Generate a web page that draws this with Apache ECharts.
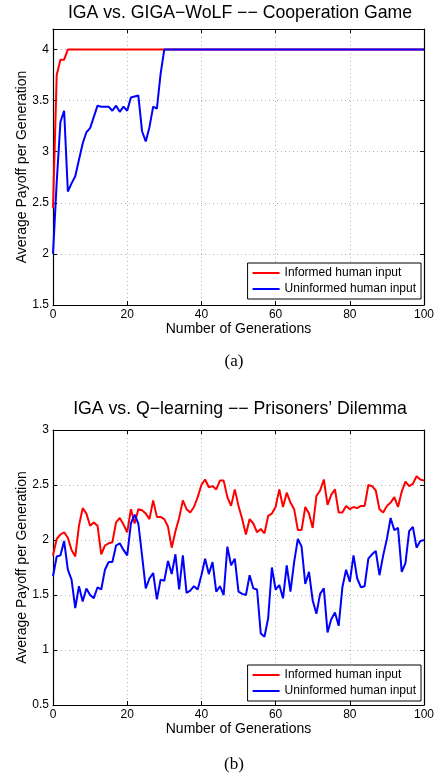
<!DOCTYPE html>
<html><head><meta charset="utf-8">
<script src="https://cdn.jsdelivr.net/npm/echarts@6/dist/echarts.min.js"></script>
<style>html,body{margin:0;padding:0;background:#fff}#c{width:443px;height:781px}</style>
</head><body><div id="c"></div>
<script>
const generations = [0,1,2,3,4,5,6,7,8,9,10,11,12,13,14,15,16,17,18,19,20,21,22,23,24,25,26,27,28,29,30,31,32,33,34,35,36,37,38,39,40,41,42,43,44,45,46,47,48,49,50,51,52,53,54,55,56,57,58,59,60,61,62,63,64,65,66,67,68,69,70,71,72,73,74,75,76,77,78,79,80,81,82,83,84,85,86,87,88,89,90,91,92,93,94,95,96,97,98,99,100];

const xTicks = [0, 20, 40, 60, 80, 100];
const yTicksTop = [1.5, 2, 2.5, 3, 3.5, 4];
const yTicksBottom = [0.5, 1, 1.5, 2, 2.5, 3];

const seriesNames = ['Informed human input', 'Uninformed human input'];
const titles = ['IGA vs. GIGA\u2212WoLF \u2212\u2212 Cooperation Game', 'IGA vs. Q\u2212learning \u2212\u2212 Prisoners\u2019 Dilemma'];
const captions = ['(a)', '(b)'];

const coopInformed = [2.45,3.75,3.90,3.90,4.00,4.00,4.00,4.00,4.00,4.00,
4.00,4.00,4.00,4.00,4.00,4.00,4.00,4.00,4.00,4.00,
4.00,4.00,4.00,4.00,4.00,4.00,4.00,4.00,4.00,4.00,
4.00,4.00,4.00,4.00,4.00,4.00,4.00,4.00,4.00,4.00,
4.00,4.00,4.00,4.00,4.00,4.00,4.00,4.00,4.00,4.00,
4.00,4.00,4.00,4.00,4.00,4.00,4.00,4.00,4.00,4.00,
4.00,4.00,4.00,4.00,4.00,4.00,4.00,4.00,4.00,4.00,
4.00,4.00,4.00,4.00,4.00,4.00,4.00,4.00,4.00,4.00,
4.00,4.00,4.00,4.00,4.00,4.00,4.00,4.00,4.00,4.00,
4.00,4.00,4.00,4.00,4.00,4.00,4.00,4.00,4.00,4.00,4.00];

const coopUninformed = [2.00,2.70,3.29,3.40,2.61,2.69,2.76,2.92,3.08,3.19,
3.23,3.34,3.45,3.44,3.44,3.44,3.40,3.45,3.39,3.44,
3.40,3.53,3.54,3.55,3.20,3.10,3.24,3.44,3.42,3.76,
4.00,4.00,4.00,4.00,4.00,4.00,4.00,4.00,4.00,4.00,
4.00,4.00,4.00,4.00,4.00,4.00,4.00,4.00,4.00,4.00,
4.00,4.00,4.00,4.00,4.00,4.00,4.00,4.00,4.00,4.00,
4.00,4.00,4.00,4.00,4.00,4.00,4.00,4.00,4.00,4.00,
4.00,4.00,4.00,4.00,4.00,4.00,4.00,4.00,4.00,4.00,
4.00,4.00,4.00,4.00,4.00,4.00,4.00,4.00,4.00,4.00,
4.00,4.00,4.00,4.00,4.00,4.00,4.00,4.00,4.00,4.00,4.00];

const pdInformed = [1.86,2.01,2.05,2.07,2.02,1.91,1.85,2.13,2.29,2.24,
2.13,2.16,2.13,1.87,1.95,1.97,1.98,2.16,2.20,2.14,
2.07,2.28,2.15,2.28,2.27,2.24,2.19,2.36,2.21,2.21,
2.19,2.12,1.93,2.08,2.20,2.36,2.28,2.25,2.30,2.39,
2.50,2.55,2.48,2.49,2.46,2.54,2.54,2.39,2.31,2.46,
2.31,2.19,2.05,2.19,2.15,2.07,2.10,2.06,2.22,2.24,
2.30,2.46,2.30,2.43,2.34,2.28,2.09,2.09,2.30,2.24,
2.11,2.40,2.45,2.55,2.32,2.41,2.46,2.25,2.25,2.31,
2.28,2.30,2.29,2.31,2.31,2.50,2.49,2.45,2.28,2.25,
2.31,2.34,2.39,2.30,2.44,2.53,2.49,2.51,2.58,2.55,2.54];

const pdUninformed = [1.67,1.85,1.86,1.99,1.73,1.64,1.38,1.58,1.44,1.56,
1.50,1.47,1.57,1.55,1.73,1.80,1.80,1.95,1.97,1.91,
1.86,2.15,2.23,2.15,1.86,1.56,1.65,1.70,1.46,1.64,
1.63,1.81,1.69,1.87,1.55,1.86,1.52,1.54,1.58,1.55,
1.68,1.83,1.69,1.80,1.53,1.58,1.50,1.94,1.77,1.83,
1.53,1.51,1.50,1.68,1.56,1.55,1.15,1.12,1.29,1.75,
1.55,1.59,1.47,1.77,1.53,1.80,2.01,1.94,1.60,1.71,
1.45,1.33,1.51,1.56,1.16,1.28,1.34,1.22,1.57,1.73,
1.62,1.86,1.65,1.57,1.58,1.83,1.87,1.90,1.68,1.86,
2.01,2.20,2.09,2.11,1.71,1.79,2.08,2.12,1.93,1.99,2.00];

const FONT = '"Liberation Sans", Arial, Helvetica, sans-serif';
const pairs = (ys) => generations.map((g, i) => [g, ys[i]]);

const grids = [
  { left: 53, top: 29, width: 371, height: 276 },
  { left: 53, top: 430, width: 371, height: 275 }
];
const yRanges = [[1.5, 4.2], [0.5, 3]];
const yTickSets = [yTicksTop, yTicksBottom];

const gridLine = { show: true, lineStyle: { color: '#b4b4b4', type: [1, 3], width: 1 } };
const axLine = { show: true, onZero: false, lineStyle: { color: '#000', width: 1.2 } };
const tickIn = { show: true, inside: true, length: 4, lineStyle: { color: '#000', width: 1 } };

const xAxis = [], yAxis = [], series = [], legend = [], graphic = [];
for (let k = 0; k < 2; k++) {
  xAxis.push({
    type: 'value', gridIndex: k, min: 0, max: 100, interval: 20, position: 'bottom',
    axisLine: axLine, axisTick: tickIn, splitLine: gridLine,
    axisLabel: { color: '#000', fontSize: 12, fontFamily: FONT, margin: 4,
      formatter: (v) => xTicks.includes(v) ? String(v) : '' },
    name: 'Number of Generations', nameLocation: 'middle', nameGap: 17, nameMoveOverlap: false,
    nameTextStyle: { color: '#000', fontSize: 14, fontFamily: FONT }
  });
  xAxis.push({
    type: 'value', gridIndex: k, min: 0, max: 100, interval: 20, position: 'top',
    axisLine: axLine, axisTick: tickIn, splitLine: { show: false }, axisLabel: { show: false }
  });
  const ticks = yTickSets[k];
  yAxis.push({
    type: 'value', gridIndex: k, min: yRanges[k][0], max: yRanges[k][1], interval: 0.5, position: 'left',
    axisLine: axLine, axisTick: tickIn, splitLine: gridLine,
    axisLabel: { color: '#000', fontSize: 12, fontFamily: FONT, margin: 4,
      formatter: (v) => ticks.some(t => Math.abs(t - v) < 1e-9) ? String(v) : '' },
    name: 'Average Payoff per Generation', nameLocation: 'middle', nameGap: 24, nameMoveOverlap: false,
    nameTextStyle: { color: '#000', fontSize: 14, fontFamily: FONT }
  });
  yAxis.push({
    type: 'value', gridIndex: k, min: yRanges[k][0], max: yRanges[k][1], interval: 0.5, position: 'right',
    axisLine: axLine, axisTick: tickIn, splitLine: { show: false }, axisLabel: { show: false }
  });
}

const dataSets = [[coopInformed, coopUninformed], [pdInformed, pdUninformed]];
const colors = ['#ff0000', '#0000ff'];
for (let k = 0; k < 2; k++) {
  for (let s = 0; s < 2; s++) {
    series.push({
      type: 'line', name: seriesNames[s], xAxisIndex: 2 * k, yAxisIndex: 2 * k,
      data: pairs(dataSets[k][s]), symbol: 'none', showSymbol: false,
      lineStyle: { color: colors[s], width: 2 }, itemStyle: { color: colors[s] },
      animation: false, z: 3 + s
    });
  }
}

const legendBottoms = [482, 80];
for (let k = 0; k < 2; k++) {
  legend.push({
    data: seriesNames.map(n => ({ name: n, icon: 'rect' })), orient: 'vertical', right: 22, bottom: legendBottoms[k],
    backgroundColor: '#fff', borderColor: '#000', borderWidth: 1,
    padding: [3, 5, 3, 5], itemGap: 2, itemWidth: 27, itemHeight: 2, itemTextGap: 3,
    textStyle: { color: '#000', fontSize: 12, fontFamily: FONT, lineHeight: 14 },
    selectedMode: false
  });
}

const titleY = [13, 409];
const capY = [362, 765];
for (let k = 0; k < 2; k++) {
  graphic.push({ type: 'text', x: 240, y: titleY[k],
    style: { text: titles[k], fill: '#000', font: '17.7px ' + FONT, textAlign: 'center', textVerticalAlign: 'middle' } });
  graphic.push({ type: 'text', x: 234, y: capY[k],
    style: { text: captions[k], fill: '#000', font: '17px "Liberation Serif", "Times New Roman", serif', textAlign: 'center', textVerticalAlign: 'middle' } });
}

const chart = echarts.init(document.getElementById('c'), null, { renderer: 'canvas' });
chart.setOption({
  backgroundColor: '#fff', animation: false,
  grid: grids, xAxis, yAxis, series, legend, graphic
});
</script></body></html>
